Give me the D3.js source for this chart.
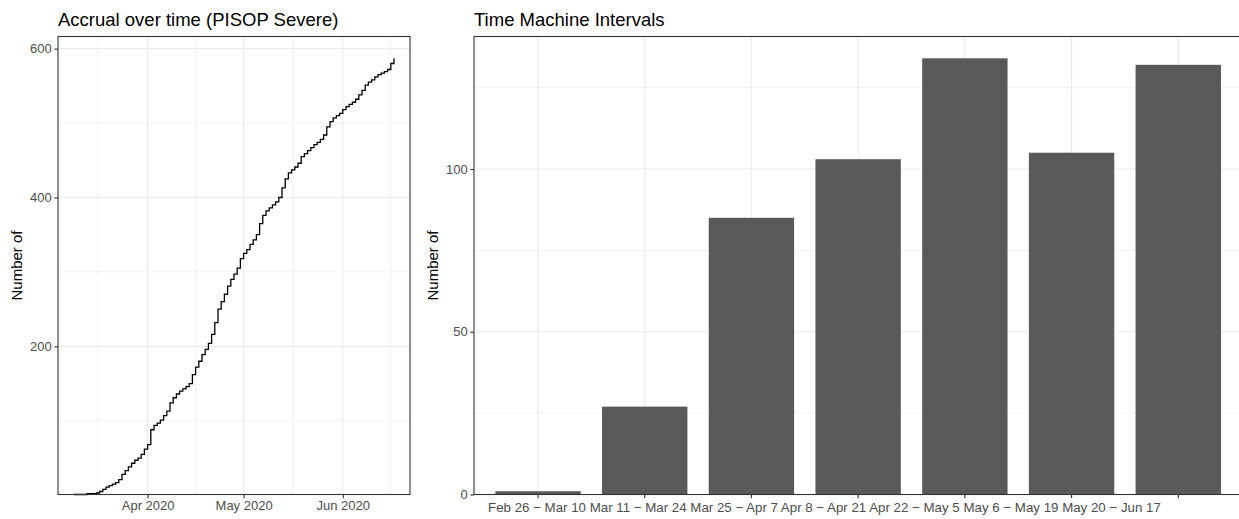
<!DOCTYPE html>
<html><head><meta charset="utf-8">
<script src="https://cdn.jsdelivr.net/npm/d3@7"></script>
<style>
body{margin:0;background:#fff}
svg text{font-family:"Liberation Sans",Arial,Helvetica,sans-serif}
</style>
</head><body>
<svg id="c" width="1239" height="519"></svg>
<script>
// ---------------- DATA ----------------
const accrualStart = "2020-03-09";            // first day of the daily series
// cumulative enrolment, one value per day from Mar 9 to Jun 17 2020
const accrualCumulative = [
  1,1,1,1,2,2,2,3,5,8,            // Mar 9 - Mar 18
  11,13,15,17,21,28,33,38,43,47,  // Mar 19 - Mar 28
  50,55,62,68,88,94,97,101,107,113, // Mar 29 - Apr 7
  124,131,136,140,143,146,150,162,172,180, // Apr 8 - Apr 17
  189,196,204,216,232,250,260,270,281,290, // Apr 18 - Apr 27
  297,305,318,325,330,337,343,350,365,376, // Apr 28 - May 7
  382,386,390,394,400,413,425,433,437,441, // May 8 - May 17
  446,455,459,463,467,471,474,478,484,495, // May 18 - May 27
  502,507,510,513,518,522,525,528,532,538, // May 28 - Jun 6
  544,551,555,558,562,565,567,569,572,580, // Jun 7 - Jun 16
  587                                      // Jun 17
];
const leftYTicks = [200, 400, 600];
const leftXTicks = ["2020-04-01", "2020-05-01", "2020-06-01"];
const leftXTickLabels = ["Apr 2020", "May 2020", "Jun 2020"];

const intervalLabels = ["Feb 26 \u2212 Mar 10", "Mar 11 \u2212 Mar 24", "Mar 25 \u2212 Apr 7",
  "Apr 8 \u2212 Apr 21", "Apr 22 \u2212 May 5", "May 6 \u2212 May 19", "May 20 \u2212 Jun 17"];
const intervalCounts = [1, 27, 85, 103, 134, 105, 132];
const rightYTicks = [0, 50, 100];

const leftTitle = "Accrual over time (PISOP Severe)";
const rightTitle = "Time Machine Intervals";
const yTitle = "Number of";

// ---------------- STYLE ----------------
const GRID = "#EBEBEB", BORDER = "#333333", TICKTXT = "#4D4D4D";
const fsTitle = 18.5, fsAxisTitle = 15, fsTick = 13, fsInterval = 13.3;

const svg = d3.select("#c");
const parse = d3.utcParse("%Y-%m-%d");

// ---------------- LEFT PANEL ----------------
const L = {x0: 58, x1: 410, y0: 36.5, y1: 494.5};
const start = parse(accrualStart);
const accrual = accrualCumulative.map((v, i) => ({date: d3.utcDay.offset(start, i), value: v}));
const dExt = d3.extent(accrual, d => d.date);
const spanDays = (dExt[1] - dExt[0]) / 864e5;
const xT = d3.scaleUtc()
  .domain([d3.utcHour.offset(dExt[0], -spanDays * 0.05 * 24), d3.utcHour.offset(dExt[1], spanDays * 0.05 * 24)])
  .range([L.x0, L.x1]);
const vExt = d3.extent(accrual, d => d.value);
const yL = d3.scaleLinear().domain([vExt[0], vExt[1] + 0.05 * (vExt[1] - vExt[0])]).range([L.y1, L.y0]);

const gl = svg.append("g");
const majorDates = leftXTicks.map(parse);
const allMonths = [parse("2020-03-01"), ...majorDates, parse("2020-07-01")];
const minorDates = d3.pairs(allMonths).map(([a, b]) => new Date((+a + +b) / 2));
const minorY = [100, 300, 500];

gl.selectAll(".mnx").data(minorDates).join("line")
  .attr("x1", d => xT(d)).attr("x2", d => xT(d)).attr("y1", L.y0).attr("y2", L.y1)
  .attr("stroke", GRID).attr("stroke-width", 0.6);
gl.selectAll(".mny").data(minorY).join("line")
  .attr("x1", L.x0).attr("x2", L.x1).attr("y1", d => yL(d)).attr("y2", d => yL(d))
  .attr("stroke", GRID).attr("stroke-width", 0.6);
gl.selectAll(".mjx").data(majorDates).join("line")
  .attr("x1", d => xT(d)).attr("x2", d => xT(d)).attr("y1", L.y0).attr("y2", L.y1)
  .attr("stroke", GRID).attr("stroke-width", 1.1);
gl.selectAll(".mjy").data(leftYTicks).join("line")
  .attr("x1", L.x0).attr("x2", L.x1).attr("y1", d => yL(d)).attr("y2", d => yL(d))
  .attr("stroke", GRID).attr("stroke-width", 1.1);

const line = d3.line().x(d => xT(d.date)).y(d => yL(d.value)).curve(d3.curveStepAfter);
gl.append("path").datum(accrual).attr("d", line)
  .attr("fill", "none").attr("stroke", "#000").attr("stroke-width", 1.3);

gl.append("rect").attr("x", L.x0).attr("y", L.y0).attr("width", L.x1 - L.x0).attr("height", L.y1 - L.y0)
  .attr("fill", "none").attr("stroke", BORDER).attr("stroke-width", 1.1);

// axes
const axL = gl.append("g").attr("transform", `translate(${L.x0},0)`)
  .call(d3.axisLeft(yL).tickValues(leftYTicks).tickSize(3.7).tickPadding(2.5));
const axB = gl.append("g").attr("transform", `translate(0,${L.y1})`)
  .call(d3.axisBottom(xT).tickValues(majorDates).tickSize(3.7).tickPadding(2.5)
    .tickFormat((d, i) => leftXTickLabels[i]));

// ---------------- RIGHT PANEL ----------------
const R = {x0: 474, x1: 1242.3, y0: 36.5, y1: 494.5};
const xB = d3.scaleBand().domain(intervalLabels).range([R.x0, R.x1]).paddingInner(0.2).paddingOuter(0.2);
const yMax = d3.max(intervalCounts);
const yR = d3.scaleLinear().domain([0, yMax * 1.05]).range([R.y1, R.y0]);
const gr = svg.append("g");
const minorYR = [25, 75, 125];
gr.selectAll(".mny").data(minorYR).join("line")
  .attr("x1", R.x0).attr("x2", R.x1).attr("y1", d => yR(d)).attr("y2", d => yR(d))
  .attr("stroke", GRID).attr("stroke-width", 0.6);
gr.selectAll(".mjy").data(rightYTicks).join("line")
  .attr("x1", R.x0).attr("x2", R.x1).attr("y1", d => yR(d)).attr("y2", d => yR(d))
  .attr("stroke", GRID).attr("stroke-width", 1.1);
gr.selectAll(".mjx").data(intervalLabels).join("line")
  .attr("x1", d => xB(d) + xB.bandwidth() / 2).attr("x2", d => xB(d) + xB.bandwidth() / 2)
  .attr("y1", R.y0).attr("y2", R.y1)
  .attr("stroke", GRID).attr("stroke-width", 1.1);

gr.selectAll(".bar").data(intervalLabels).join("rect")
  .attr("x", d => xB(d)).attr("width", xB.bandwidth())
  .attr("y", (d, i) => yR(intervalCounts[i])).attr("height", (d, i) => yR(0) - yR(intervalCounts[i]))
  .attr("fill", "#595959");

gr.append("rect").attr("x", R.x0).attr("y", R.y0).attr("width", R.x1 - R.x0).attr("height", R.y1 - R.y0)
  .attr("fill", "none").attr("stroke", BORDER).attr("stroke-width", 1.1);

const axLR = gr.append("g").attr("transform", `translate(${R.x0},0)`)
  .call(d3.axisLeft(yR).tickValues(rightYTicks).tickSize(3.7).tickPadding(2.5));
const axBR = gr.append("g").attr("transform", `translate(0,${R.y1})`)
  .call(d3.axisBottom(xB).tickSize(3.7).tickPadding(2.5).tickFormat(""));

// style axes
[axL, axB, axLR, axBR].forEach(a => {
  a.select(".domain").remove();
  a.selectAll(".tick line").attr("stroke", BORDER).attr("stroke-width", 1.1);
  a.selectAll(".tick text").attr("fill", TICKTXT).attr("font-size", fsTick)
    .attr("font-family", null);
});

// interval labels: flowing text, first label centred on first tick
const c0 = xB(intervalLabels[0]) + xB.bandwidth() / 2;
const lab = gr.append("text").attr("y", R.y1 + 17).attr("fill", TICKTXT).attr("font-size", fsInterval);
const t0 = lab.append("tspan").text(intervalLabels[0]);
const w0 = t0.node().getComputedTextLength();
lab.attr("x", c0 - w0 / 2 - 1);
intervalLabels.slice(1).forEach(s => lab.append("tspan").text(" " + s));

// titles
svg.append("text").attr("x", L.x0).attr("y", 26).attr("font-size", fsTitle).attr("fill", "#000").text(leftTitle);
svg.append("text").attr("x", R.x0).attr("y", 26).attr("font-size", fsTitle).attr("fill", "#000").text(rightTitle);
svg.append("text").attr("transform", `translate(22,${(L.y0 + L.y1) / 2}) rotate(-90)`)
  .attr("text-anchor", "middle").attr("font-size", fsAxisTitle).attr("fill", "#000").text(yTitle);
svg.append("text").attr("transform", `translate(438,${(R.y0 + R.y1) / 2}) rotate(-90)`)
  .attr("text-anchor", "middle").attr("font-size", fsAxisTitle).attr("fill", "#000").text(yTitle);
</script>
</body></html>
